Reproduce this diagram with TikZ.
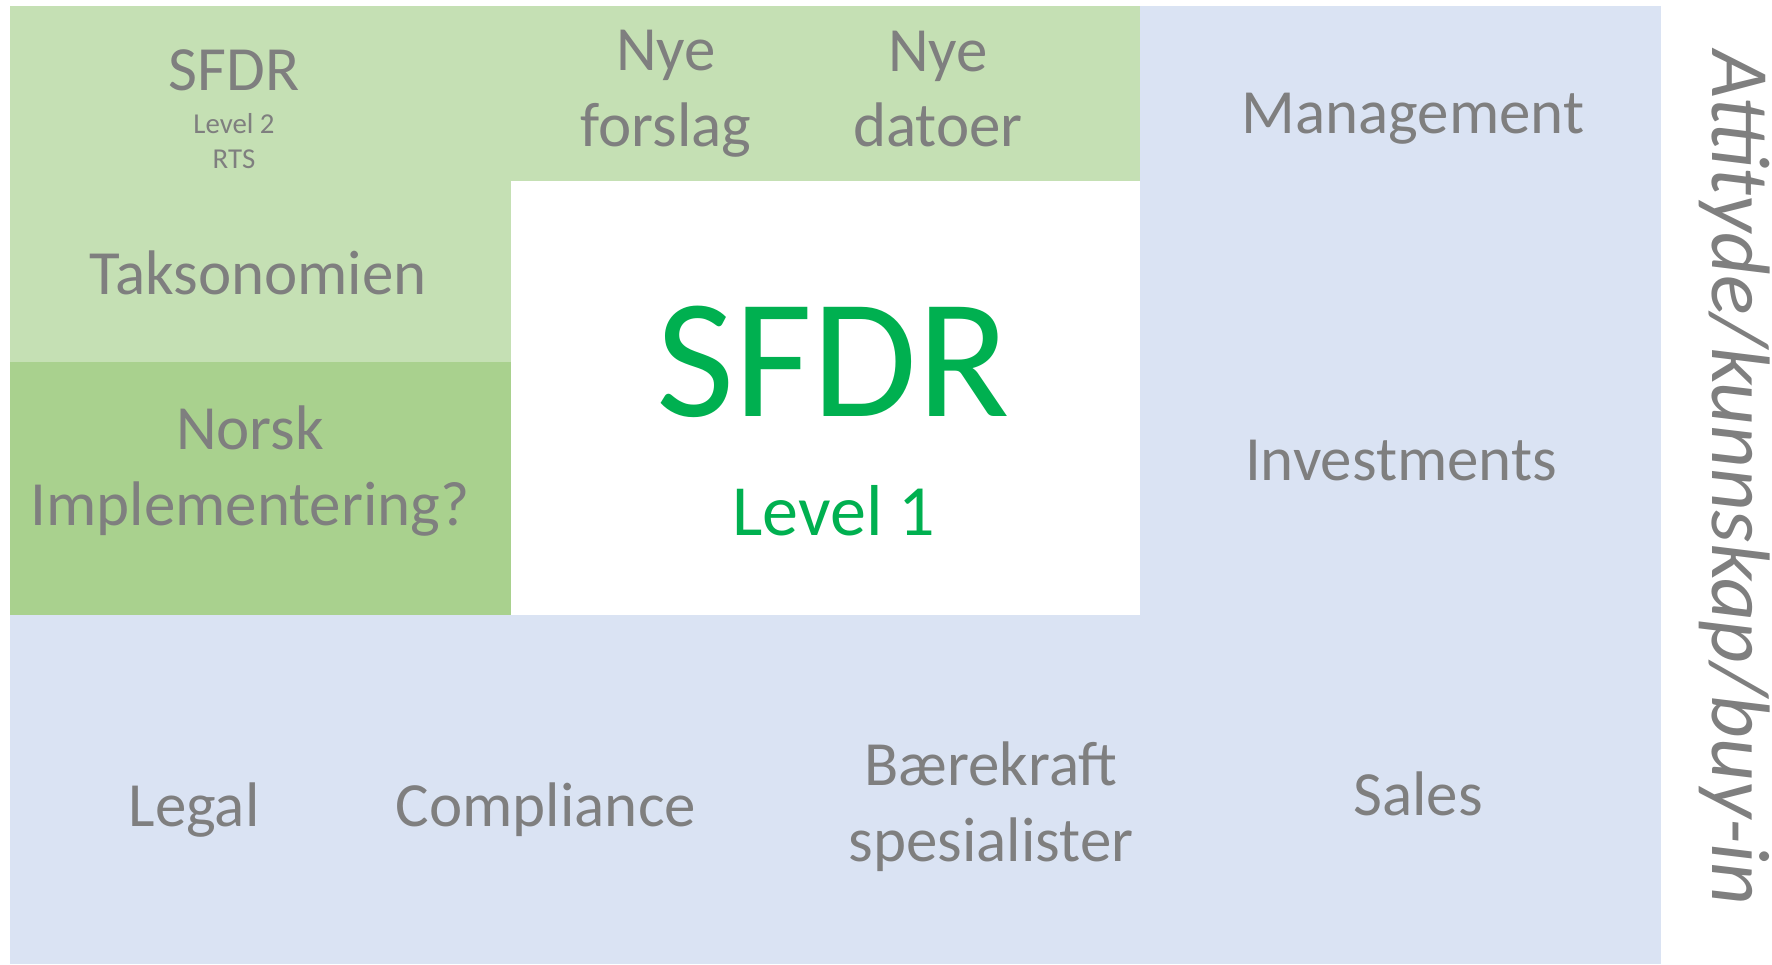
\documentclass[tikz,border=0pt]{standalone}
\usepackage{fontspec}
\setmainfont{Carlito}
\definecolor{lgreen}{HTML}{C5E0B4}
\definecolor{dgreen}{HTML}{A9D18E}
\definecolor{lblue}{HTML}{DAE3F3}
\definecolor{tgrey}{HTML}{7F7F7F}
\definecolor{sgreen}{HTML}{00B050}
\tikzset{
  lbl/.style={text=tgrey, font=\fontsize{17.9pt}{21.5pt}\selectfont, align=center, inner sep=0pt},
  small/.style={text=tgrey, font=\fontsize{8.2pt}{10pt}\selectfont, align=center, inner sep=0pt},
}
\begin{document}
\begin{tikzpicture}[x=0.01cm,y=-0.01cm]
\useasboundingbox (0,0) rectangle (1772,965);
% regions
\fill[lblue] (10,6) rectangle (1661,964);
\fill[lgreen] (10,6) rectangle (1140,181);
\fill[lgreen] (10,6) rectangle (511,362);
\fill[dgreen] (10,362) rectangle (511,615);
\fill[white] (511,181) rectangle (1140,615);
% texts
\node[lbl] (sfdrsmall) at (234,70) {SFDR};
\node[small] (lvl2) at (234,124) {Level 2};
\node[small] (rts) at (234,159) {RTS};
\node[lbl] (nyef) at (666,94) {Nye\\forslag};
\node[lbl] (nyed) at (938,89) {Nye\\datoer};
\node[lbl] (tak) at (258,273) {Taksonomien};
\node[lbl] (norsk) at (250,471) {Norsk\\Implementering?};
\node[text=sgreen, font=\fontsize{48.4pt}{58pt}\selectfont, inner sep=0pt] (sfdr) at (833,362) {SFDR};
\node[text=sgreen, font=\fontsize{20.5pt}{24pt}\selectfont, inner sep=0pt] (lvl1) at (834,511) {Level 1};
\node[lbl] (mgmt) at (1413,119) {Management};
\node[lbl] (inv) at (1401,461) {Investments};
\node[lbl] (legal) at (194,810) {Legal};
\node[lbl] (comp) at (546,810) {Compliance};
\node[lbl] (baer) at (991,807) {Bærekraft\\spesialister};
\node[lbl] (sales) at (1418,794) {Sales};
\node[text=tgrey, font=\fontsize{23.6pt}{28pt}\selectfont\itshape, inner sep=0pt, rotate=-90] (att) at (1735,478) {Attityde/kunnskap/buy-in};
\end{tikzpicture}
\end{document}
